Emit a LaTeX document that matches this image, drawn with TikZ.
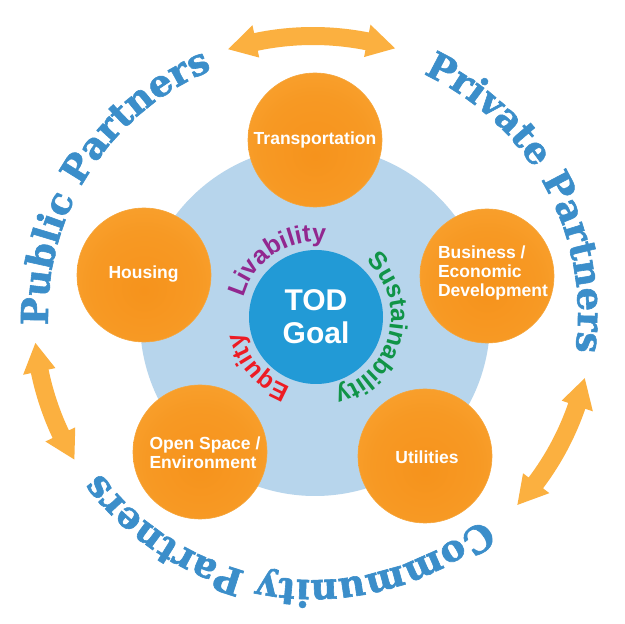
\documentclass[tikz,border=0pt]{standalone}
\usepackage{fontspec}
\setmainfont{Liberation Sans}
\newfontfamily\outerfont{DejaVu Serif}[BoldFeatures={FakeBold=1.6}]
\usetikzlibrary{decorations.text}
\definecolor{ringblue}{RGB}{183,213,236}
\definecolor{goalblue}{RGB}{34,154,214}
\definecolor{outblue}{RGB}{59,142,202}
\definecolor{livpurple}{RGB}{146,39,143}
\definecolor{susgreen}{RGB}{16,148,71}
\definecolor{eqred}{RGB}{237,28,36}
\definecolor{arroworange}{RGB}{251,176,64}
\definecolor{orbedge}{RGB}{246,166,60}
\pgfdeclareradialshading{orbshade}{\pgfpoint{0bp}{-6bp}}{rgb(0bp)=(0.965,0.576,0.110); rgb(20bp)=(0.969,0.600,0.140); rgb(50bp)=(0.984,0.690,0.255)}
\newcommand{\dblarrow}[2]{%
  \pgfmathsetmacro{\aA}{#1}%
  \pgfmathsetmacro{\aB}{#2}%
  \pgfmathsetmacro{\sg}{(#2>#1)?1:-1}%
  \pgfmathsetmacro{\hA}{\aA+\sg*5.9}%
  \pgfmathsetmacro{\hB}{\aB-\sg*5.9}%
  \fill[arroworange] (\aA:279pt) -- (\hA:296pt) -- (\hA:288pt)
    arc[start angle=\hA, end angle=\hB, radius=288pt]
    -- (\hB:296pt) -- (\aB:279pt) -- (\hB:263pt) -- (\hB:270pt)
    arc[start angle=\hB, end angle=\hA, radius=270pt]
    -- (\hA:263pt) -- cycle;}
\begin{document}
\begin{tikzpicture}[x=1pt,y=1pt,
  orb/.style={circle, minimum size=134pt, inner sep=0pt, shading=orbshade, draw=orbedge, line width=0.6pt},
  lab/.style={text=white, font=\bfseries\fontsize{17.5}{19}\selectfont, inner sep=0pt},
  goalc/.style={circle, fill=goalblue, minimum size=134pt, inner sep=0pt, text=white, align=center, font=\bfseries\fontsize{30}{33}\selectfont},
  outtext/.style={decorate, decoration={text along path, text color=outblue, text align=center, text={|\outerfont\bfseries\fontsize{37}{40}\selectfont|#1}}},
  intext/.style 2 args={decorate, decoration={text along path, text color=#1, text align=center, text={|\bfseries\fontsize{25}{30}\selectfont|#2}}}]
\useasboundingbox (0,0) rectangle (624,624);
\fill[white] (0,0) rectangle (624,624);
\node[circle, fill=ringblue, minimum size=350pt, inner sep=0pt] (ring) at (315,303) {};
\node[orb] (trans) at (315,484) {};
\node[orb] (hous) at (144,349) {};
\node[orb] (bus) at (487,348) {};
\node[orb] (open) at (200,172) {};
\node[orb] (util) at (425,168) {};
\node[goalc] (goal) at (316,307) {TOD\\Goal};
\node[lab] (transl) at (315,484.5) {Transportation};
\node[lab] (housl) at (143.5,349.5) {Housing};
\node[lab, align=left] (busl) at (493,351) {Business /\\Economic\\Development};
\node[lab, align=left] (openl) at (205,171.5) {Open Space /\\Environment};
\node[lab] (utill) at (427,167) {Utilities};
\begin{scope}[shift={(goal.center)}]
  \path[intext={livpurple}{Livability}] (194:75pt) arc[start angle=194, end angle=54, radius=75pt];
  \path[intext={susgreen}{Sustainability}] (56:75pt) arc[start angle=56, end angle=-84, radius=75pt];
  \path[intext={eqred}{Equity}] (291:75pt) arc[start angle=291, end angle=151, radius=75pt];
\end{scope}
\begin{scope}[shift={(313,309)}]
  \path[outtext={Public Partners}] (217.3:265pt) arc[start angle=217.3, end angle=77.3, radius=265pt];
  \path[outtext={Private Partners}] (98.7:265pt) arc[start angle=98.7, end angle=-41.3, radius=265pt];
  \path[outtext={Community Partners}] (-26.9:265pt) arc[start angle=-26.9, end angle=-166.9, radius=265pt];
  \dblarrow{107.7}{72.9}
  \dblarrow{185.75}{211.2}
  \dblarrow{-13.1}{-42.9}
\end{scope}
\end{tikzpicture}
\end{document}
